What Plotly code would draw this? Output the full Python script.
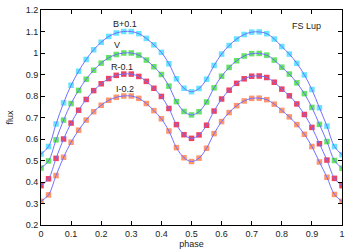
import plotly.graph_objects as go

phase = [0.000, 0.025, 0.050, 0.075, 0.100, 0.125, 0.150, 0.175, 0.200, 0.225,
         0.250, 0.275, 0.300, 0.325, 0.350, 0.375, 0.400, 0.425, 0.450, 0.475,
         0.500, 0.525, 0.550, 0.575, 0.600, 0.625, 0.650, 0.675, 0.700, 0.725,
         0.750, 0.775, 0.800, 0.825, 0.850, 0.875, 0.900, 0.925, 0.950, 0.975, 1.000]

flux_B = [0.530, 0.565, 0.670, 0.768, 0.850, 0.915, 0.970, 1.015, 1.050, 1.077,
          1.093, 1.100, 1.100, 1.090, 1.068, 1.038, 1.003, 0.950, 0.880, 0.836,
          0.820, 0.835, 0.878, 0.942, 0.995, 1.035, 1.065, 1.086, 1.097, 1.098,
          1.090, 1.065, 1.030, 0.995, 0.952, 0.898, 0.830, 0.745, 0.660, 0.565, 0.527]

flux_V = [0.465, 0.498, 0.596, 0.688, 0.765, 0.826, 0.878, 0.920, 0.953, 0.978,
          0.993, 1.000, 1.000, 0.990, 0.967, 0.936, 0.900, 0.846, 0.774, 0.728,
          0.712, 0.727, 0.772, 0.838, 0.892, 0.933, 0.964, 0.986, 0.997, 0.998,
          0.990, 0.967, 0.934, 0.902, 0.861, 0.811, 0.747, 0.668, 0.588, 0.500, 0.464]

flux_R = [0.383, 0.415, 0.510, 0.600, 0.674, 0.734, 0.784, 0.825, 0.857, 0.881,
          0.896, 0.902, 0.902, 0.891, 0.868, 0.836, 0.798, 0.742, 0.667, 0.620,
          0.603, 0.619, 0.664, 0.730, 0.786, 0.827, 0.859, 0.880, 0.892, 0.893,
          0.886, 0.864, 0.832, 0.801, 0.763, 0.714, 0.654, 0.578, 0.502, 0.417, 0.383]

flux_I = [0.310, 0.340, 0.430, 0.515, 0.585, 0.641, 0.688, 0.727, 0.757, 0.780,
          0.794, 0.800, 0.800, 0.789, 0.765, 0.732, 0.694, 0.637, 0.560, 0.513,
          0.495, 0.511, 0.557, 0.625, 0.681, 0.723, 0.755, 0.777, 0.789, 0.790,
          0.783, 0.762, 0.733, 0.703, 0.667, 0.622, 0.565, 0.493, 0.422, 0.342, 0.310]

band_labels = ["B+0.1", "V", "R-0.1", "I-0.2"]
label_x = [0.279, 0.251, 0.269, 0.278]
label_y = [1.135, 1.037, 0.936, 0.833]
title_text = "FS Lup"

x_ticks = [0, 0.1, 0.2, 0.3, 0.4, 0.5, 0.6, 0.7, 0.8, 0.9, 1]
y_ticks = [0.2, 0.3, 0.4, 0.5, 0.6, 0.7, 0.8, 0.9, 1.0, 1.1, 1.2]

series = [flux_B, flux_V, flux_R, flux_I]
colors = ["#40dcff", "#3cdc3c", "#e8143c", "#ff7a48"]
line_color = "#7070ff"
font_family = "Liberation Sans, Arial, sans-serif"

fig = go.Figure()
for vals, col in zip(series, colors):
    fig.add_trace(go.Scatter(
        x=phase, y=vals, mode="markers",
        marker=dict(symbol="square", size=5.5, color=col, opacity=0.8,
                    line=dict(width=0)),
        showlegend=False, hoverinfo="skip"))
for vals in series:
    fig.add_trace(go.Scatter(
        x=phase, y=vals, mode="lines",
        line=dict(color=line_color, width=1, shape="spline", smoothing=1.0),
        showlegend=False, hoverinfo="skip"))

for txt, lx, ly in zip(band_labels, label_x, label_y):
    fig.add_annotation(x=lx, y=ly, text=txt, showarrow=False,
                       font=dict(size=9, color="#222", family=font_family))
fig.add_annotation(x=0.883, y=1.126, text=title_text, showarrow=False,
                   font=dict(size=9, color="#222", family=font_family))

axis_common = dict(
    showline=True, linecolor="black", linewidth=1, mirror="allticks",
    ticks="inside", ticklen=4, tickcolor="black", tickwidth=1,
    showgrid=False, zeroline=False, automargin=False,
    tickfont=dict(size=9, color="#222", family=font_family),
)

fig.update_xaxes(range=[0, 1], tickvals=x_ticks,
                 ticktext=[("%g" % t) for t in x_ticks],
                 title=dict(text="phase", standoff=0,
                            font=dict(size=9, color="#222", family=font_family)),
                 **axis_common)
fig.update_yaxes(range=[0.2, 1.2], tickvals=y_ticks,
                 ticktext=[("%g" % t) for t in y_ticks],
                 title=dict(text="flux", standoff=10,
                            font=dict(size=9, color="#222", family=font_family)),
                 **axis_common)

fig.update_layout(
    width=356, height=249,
    margin=dict(l=41, r=14, t=10, b=24),
    paper_bgcolor="white", plot_bgcolor="white",
)

fig.write_html("out.html", config={"displayModeBar": False},
               post_script="document.body.style.margin='0px';document.body.style.overflow='hidden';")
